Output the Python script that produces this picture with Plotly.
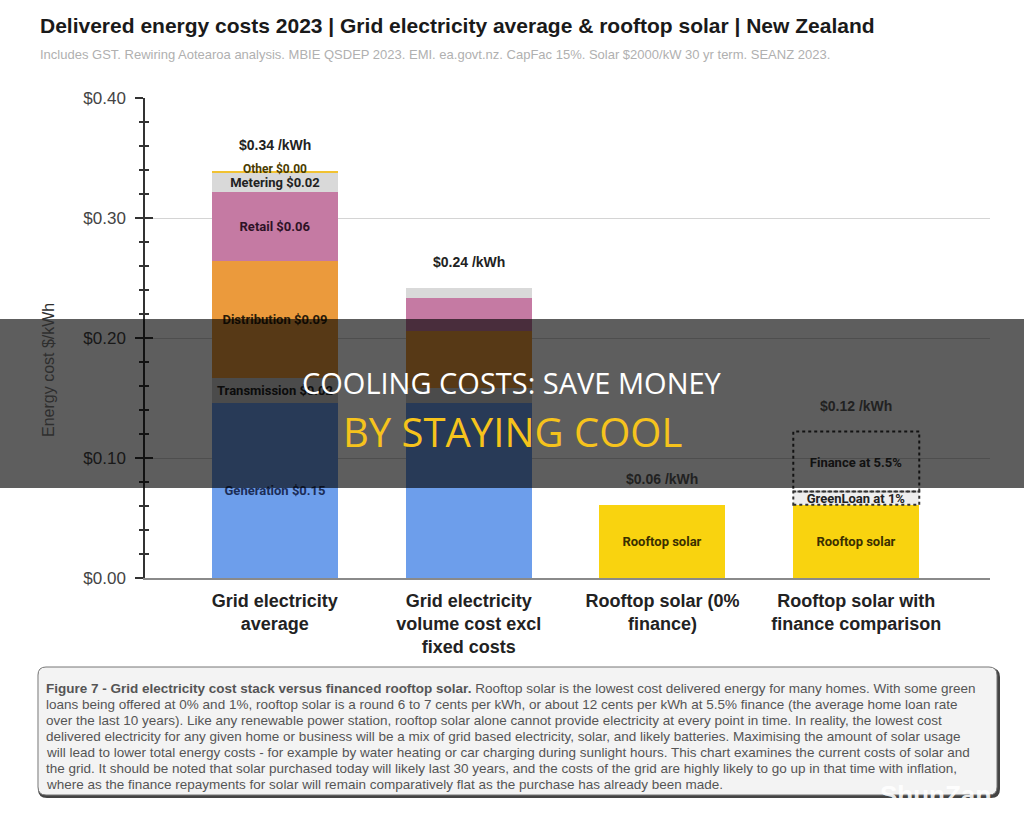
import plotly.graph_objects as go

# ---------------- data ----------------
categories = [
    "Grid electricity<br>average",
    "Grid electricity<br>volume cost excl<br>fixed costs",
    "Rooftop solar (0%<br>finance)",
    "Rooftop solar with<br>finance comparison",
]
x_pos = [0, 1, 2, 3]

generation   = [0.146, 0.146, 0.0, 0.0]
transmission = [0.021, 0.0125, 0.0, 0.0]
distribution = [0.097, 0.047, 0.0, 0.0]
retail       = [0.0575, 0.028, 0.0, 0.0]
metering     = [0.0165, 0.0085, 0.0, 0.0]
other        = [0.0015, 0.0, 0.0, 0.0]
rooftop      = [0.0, 0.0, 0.061, 0.061]
greenloan    = [0.0, 0.0, 0.0, 0.011]
finance      = [0.0, 0.0, 0.0, 0.050]

generation_labels   = ["Generation $0.15", "", "", ""]
transmission_labels = ["Transmission $0.02", "", "", ""]
distribution_labels = ["Distribution $0.09", "", "", ""]
retail_labels       = ["Retail $0.06", "", "", ""]
metering_labels     = ["Metering $0.02", "", "", ""]
other_labels        = ["Other $0.00", "", "", ""]
rooftop_labels      = ["", "", "Rooftop solar", "Rooftop solar"]
greenloan_labels    = ["", "", "", "GreenLoan at 1%"]
finance_labels      = ["", "", "", "Finance at 5.5%"]

total_labels = ["$0.34 /kWh", "$0.24 /kWh", "$0.06 /kWh", "$0.12 /kWh"]

y_tick_vals = [0.0, 0.1, 0.2, 0.3, 0.4]
y_tick_text = ["$0.00", "$0.10", "$0.20", "$0.30", "$0.40"]

title_text = "Delivered energy costs 2023 | Grid electricity average & rooftop solar | New Zealand"
subtitle_text = ("Includes GST. Rewiring Aotearoa analysis. MBIE QSDEP 2023. EMI. ea.govt.nz. "
                 "CapFac 15%. Solar $2000/kW 30 yr term. SEANZ 2023.")
caption_lines = [
    "<b>Figure 7 - Grid electricity cost stack versus financed rooftop solar.</b> Rooftop solar is the lowest cost delivered energy for many homes. With some green",
    "loans being offered at 0% and 1%, rooftop solar is a round 6 to 7 cents per kWh, or about 12 cents per kWh at 5.5% finance (the average home loan rate",
    "over the last 10 years). Like any renewable power station, rooftop solar alone cannot provide electricity at every point in time. In reality, the lowest cost",
    "delivered electricity for any given home or business will be a mix of grid based electricity, solar, and likely batteries. Maximising the amount of solar usage",
    "will lead to lower total energy costs - for example by water heating or car charging during sunlight hours. This chart examines the current costs of solar and",
    "the grid. It should be noted that solar purchased today will likely last 30 years, and the costs of the grid are highly likely to go up in that time with inflation,",
    "where as the finance repayments for solar will remain comparatively flat as the purchase has already been made.",
]
overlay_line1 = "COOLING COSTS: SAVE MONEY"
overlay_line2 = "BY STAYING COOL"

# ---------------- layout geometry ----------------
W, H = 1024, 823
ML, MR, MT, MB = 145, 34, 98, 245
PW, PH = W - ML - MR, H - MT - MB
BAR_W = 0.65


def px_x(p):
    return (p - ML) / PW


def px_y(p):
    return (H - MB - p) / PH


FONT = "Liberation Sans, Arial, sans-serif"
LBL_FONT = "Roboto, Liberation Sans, sans-serif"

fig = go.Figure()

series = [
    (generation, generation_labels, "#6D9EEB", "#1c2d57"),
    (transmission, transmission_labels, "#CCCCCC", "#222222"),
    (distribution, distribution_labels, "#EB9A3C", "#2a1a08"),
    (retail, retail_labels, "#C57AA3", "#2e1226"),
    (metering, metering_labels, "#D9D9D9", "#222222"),
    (other, ["", "", "", ""], "#F1C232", "#333333"),
    (rooftop, rooftop_labels, "#F9D30F", "#3a2f00"),
    (greenloan, greenloan_labels, "#EEEEEE", "#222222"),
    (finance, finance_labels, "rgba(255,255,255,0)", "#333333"),
]
for vals, labels, col, tcol in series:
    fig.add_trace(go.Bar(
        x=x_pos, y=vals, text=labels, width=BAR_W,
        marker=dict(color=col, line=dict(width=0)),
        textposition="inside", insidetextanchor="middle", textangle=0,
        constraintext="none",
        insidetextfont=dict(family=LBL_FONT, size=13, color=tcol, weight="bold"),
        hoverinfo="skip", showlegend=False,
    ))

# dummy trace for the inner tick axis
fig.add_trace(go.Scatter(x=[None], y=[None], yaxis="y2", showlegend=False, hoverinfo="skip"))

# stack totals
stacks = [generation, transmission, distribution, retail, metering, other, rooftop, greenloan, finance]
totals = [sum(s[i] for s in stacks) for i in range(len(x_pos))]

annotations = []
for i, lab in enumerate(total_labels):
    annotations.append(dict(x=x_pos[i], y=totals[i], xref="x", yref="y", text="<b>%s</b>" % lab,
                            showarrow=False, yanchor="bottom", yshift=16,
                            font=dict(family=FONT, size=14, color="#222222")))
# "Other" label sits at the stack top
annotations.append(dict(x=x_pos[0], y=totals[0], xref="x", yref="y", text=other_labels[0],
                        showarrow=False, yanchor="middle", yshift=2,
                        font=dict(family=LBL_FONT, size=12, color="#4a3c00", weight="bold")))

# title & subtitle
annotations.append(dict(x=px_x(38), y=px_y(25), xref="paper", yref="paper", xanchor="left", yanchor="middle",
                        text="<b>%s</b>" % title_text, showarrow=False,
                        font=dict(family=FONT, size=21, color="#1a1a1a")))
annotations.append(dict(x=px_x(38), y=px_y(55), xref="paper", yref="paper", xanchor="left", yanchor="middle",
                        text=subtitle_text, showarrow=False,
                        font=dict(family=FONT, size=13, color="#b0b0b0")))
# y axis title
annotations.append(dict(x=px_x(48), y=px_y(370), xref="paper", yref="paper", xanchor="center", yanchor="middle",
                        text="Energy cost $/kWh", textangle=-90, showarrow=False,
                        font=dict(family=FONT, size=16, color="#2e2e2e")))
# caption (one annotation per printed line)
for k, line in enumerate(caption_lines):
    annotations.append(dict(x=px_x(44), y=px_y(688 + 16 * k), xref="paper", yref="paper",
                            xanchor="left", yanchor="middle", align="left", text=line, showarrow=False,
                            font=dict(family=FONT, size=13.5, color="#555555")))
# overlay text
annotations.append(dict(x=px_x(512), y=px_y(382), xref="paper", yref="paper", xanchor="center", yanchor="middle",
                        text=overlay_line1, showarrow=False,
                        font=dict(family="Open Sans, sans-serif", size=29, color="#FFFFFF")))
annotations.append(dict(x=px_x(512), y=px_y(431), xref="paper", yref="paper", xanchor="center", yanchor="middle",
                        text=overlay_line2, showarrow=False,
                        font=dict(family="Open Sans, sans-serif", size=40, color="#F6C31C")))
# watermark
annotations.append(dict(x=px_x(935), y=px_y(795), xref="paper", yref="paper", xanchor="center", yanchor="middle",
                        text="<b>ShunZap</b>", showarrow=False,
                        font=dict(family=FONT, size=26, color="rgba(255,255,255,0.9)")))

shapes = []
# dotted borders of financed solar segments (from data)
base = [generation[i] + transmission[i] + distribution[i] + retail[i] + metering[i] + other[i] + rooftop[i]
        for i in range(len(x_pos))]
for i in range(len(x_pos)):
    b = base[i]
    for seg in (greenloan, finance):
        if seg[i] > 0:
            shapes.append(dict(type="rect", xref="x", yref="y",
                               x0=x_pos[i] - BAR_W / 2, x1=x_pos[i] + BAR_W / 2,
                               y0=b, y1=b + seg[i], layer="above",
                               line=dict(color="#333333", width=2, dash="dot"),
                               fillcolor="rgba(0,0,0,0)"))
            b += seg[i]


def rounded_rect(x0, y0, x1, y1, r):
    # pixel coords -> paper path with rounded corners
    def P(x, y):
        return "%.5f,%.5f" % (px_x(x), px_y(y))
    return ("M %s L %s Q %s %s L %s Q %s %s L %s Q %s %s L %s Q %s %s Z" % (
        P(x0 + r, y0), P(x1 - r, y0), P(x1, y0), P(x1, y0 + r),
        P(x1, y1 - r), P(x1, y1), P(x1 - r, y1),
        P(x0 + r, y1), P(x0, y1), P(x0, y1 - r),
        P(x0, y0 + r), P(x0, y0), P(x0 + r, y0)))


# caption box shadow and box
shapes.append(dict(type="path", xref="paper", yref="paper", path=rounded_rect(39, 669, 999, 797, 8),
                   line=dict(color="#444444", width=2), fillcolor="#444444", layer="above"))
shapes.append(dict(type="path", xref="paper", yref="paper", path=rounded_rect(38, 667, 997, 795, 8),
                   line=dict(color="#777777", width=1), fillcolor="#F3F3F3", layer="above"))

# dark overlay band
shapes.append(dict(type="rect", xref="paper", yref="paper",
                   x0=px_x(-5), x1=px_x(W + 5), y0=px_y(488), y1=px_y(319),
                   fillcolor="rgba(0,0,0,0.63)", line=dict(width=0), layer="above"))

fig.update_layout(
    width=W, height=H,
    margin=dict(l=ML, r=MR, t=MT, b=MB, pad=0),
    paper_bgcolor="white", plot_bgcolor="white",
    barmode="stack", bargap=0,
    font=dict(family=FONT),
    xaxis=dict(
        range=[-0.67, 3.69], tickvals=x_pos, ticktext=categories,
        tickfont=dict(family=FONT, size=18, color="#222222", weight="bold"),
        showgrid=False, zeroline=False, showline=True, linecolor="#8a8a8a", linewidth=2,
        ticks="", ticklabelstandoff=5, fixedrange=True,
    ),
    yaxis=dict(
        range=[0, 0.4], tickvals=y_tick_vals, ticktext=y_tick_text,
        tickfont=dict(family=FONT, size=17, color="#444444"),
        showgrid=True, gridcolor="#d4d4d4", gridwidth=1, zeroline=False,
        showline=True, linecolor="#333333", linewidth=1.5,
        ticks="outside", ticklen=8, tickwidth=1.5, tickcolor="#333333",
        ticklabelstandoff=6,
        minor=dict(dtick=0.02, ticks="outside", ticklen=4, tickwidth=1.5, tickcolor="#333333", showgrid=False),
        fixedrange=True,
    ),
    yaxis2=dict(
        range=[0, 0.4], overlaying="y", side="left", anchor="x",
        tickvals=y_tick_vals, showticklabels=False, showgrid=False, zeroline=False, showline=False,
        ticks="inside", ticklen=8, tickwidth=1.5, tickcolor="#333333",
        minor=dict(dtick=0.02, ticks="inside", ticklen=4, tickwidth=1.5, tickcolor="#333333", showgrid=False),
        fixedrange=True,
    ),
    annotations=annotations,
    shapes=shapes,
)

fig.write_html("out.html")
